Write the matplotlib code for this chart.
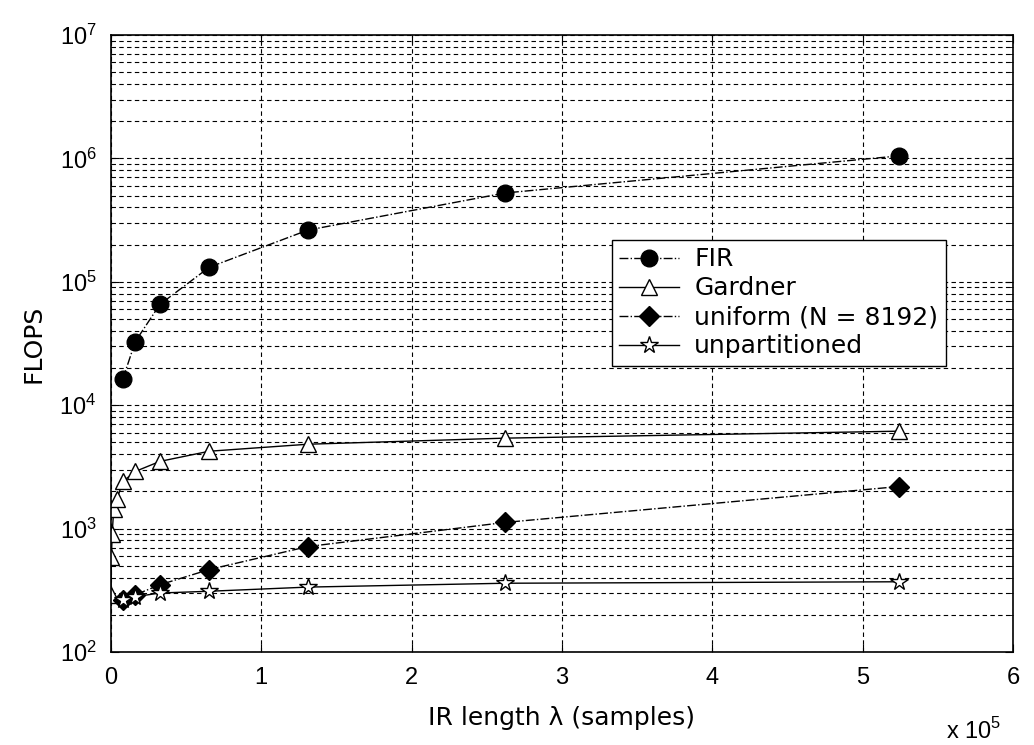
import matplotlib
matplotlib.use('Agg')
import matplotlib.pyplot as plt
from matplotlib.ticker import FuncFormatter, LogLocator

plt.rcParams['font.family'] = ['Liberation Sans', 'DejaVu Sans']
plt.rcParams['mathtext.fontset'] = 'custom'
plt.rcParams['mathtext.rm'] = 'Liberation Sans'

# data
x_fir = [8192, 16384, 32768, 65536, 131072, 262144, 524288]
y_fir = [16384, 32768, 65536, 131072, 262144, 524288, 1048576]

x_gardner = [256, 512, 1024, 2048, 4096, 8192, 16384, 32768, 65536, 131072, 262144, 524288]
y_gardner = [290, 592, 910, 1430, 1720, 2410, 2900, 3500, 4230, 4820, 5400, 6150]

x_uniform = [8192, 16384, 32768, 65536, 131072, 262144, 524288]
y_uniform = [265, 290, 350, 465, 714, 1120, 2190]

x_unpart = [8192, 16384, 32768, 65536, 131072, 262144, 524288]
y_unpart = [262, 280, 300, 310, 335, 360, 370]

labels = ['FIR', 'Gardner', 'uniform (N = 8192)', 'unpartitioned']

fig = plt.figure(figsize=(10.34, 7.45), dpi=100)
ax = fig.add_axes([0.107, 0.125, 0.873, 0.828])

ax.plot(x_fir, y_fir, '-.', color='k', lw=1, marker='o', ms=12,
        mfc='k', mec='k', label=labels[0])
ax.plot(x_gardner, y_gardner, '-', color='k', lw=1, marker='^', ms=11,
        mfc='white', mec='k', label=labels[1])
ax.plot(x_uniform, y_uniform, '-.', color='k', lw=1, marker='D', ms=10,
        mfc='k', mec='k', label=labels[2])
ax.plot(x_unpart, y_unpart, '-', color='k', lw=1, marker='*', ms=13,
        mfc='white', mec='k', label=labels[3])

ax.set_yscale('log')
ax.set_xlim(0, 6e5)
ax.set_ylim(1e2, 1e7)
ax.set_xticks([i * 1e5 for i in range(7)])
ax.xaxis.set_major_formatter(FuncFormatter(lambda v, p: '%d' % round(v / 1e5)))
ax.yaxis.set_major_locator(LogLocator(base=10, numticks=10))
ax.yaxis.set_minor_locator(LogLocator(base=10, subs=range(2, 10), numticks=20))

ax.grid(True, which='both', axis='y', color='k', ls=(0, (4, 3)), lw=0.8)
ax.grid(True, which='major', axis='x', color='k', ls=(0, (4, 3)), lw=0.8)
ax.tick_params(which='both', direction='in', top=True, right=True, labelsize=17)
ax.tick_params(which='major', length=6)
ax.tick_params(which='minor', length=3)
ax.tick_params(axis='y', pad=10)
ax.tick_params(axis='x', pad=11)
for s in ax.spines.values():
    s.set_linewidth(1.2)

ax.set_xlabel('IR length λ (samples)', fontsize=18, family='DejaVu Sans', labelpad=12)
ax.set_ylabel('FLOPS', fontsize=18, family='DejaVu Sans', labelpad=10)
fig.text(0.915, 0.008, r'x 10$^5$', fontsize=17)

leg = ax.legend(loc='upper left', bbox_to_anchor=(0.555, 0.668),
                prop={'family': 'DejaVu Sans', 'size': 18},
                fancybox=False, edgecolor='k', framealpha=1, borderaxespad=0,
                handlelength=2.4, labelspacing=0.2, borderpad=0.3,
                handletextpad=0.6)
leg.get_frame().set_linewidth(1.0)

fig.savefig('out.png', dpi=100)
